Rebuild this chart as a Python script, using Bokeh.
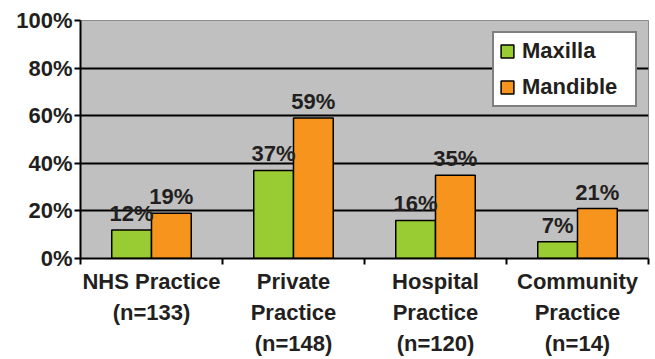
from bokeh.plotting import figure
from bokeh.models import (ColumnDataSource, Range1d, FixedTicker, PrintfTickFormatter,
                          LabelSet, Legend, LegendItem)
from bokeh.core.properties import value
from bokeh.embed import file_html
from bokeh.resources import INLINE

# Percentage of respondents by practice setting and jaw
categories = ["NHS Practice\n(n=133)", "Private\nPractice\n(n=148)",
              "Hospital\nPractice\n(n=120)", "Community\nPractice\n(n=14)"]
maxilla = [12, 37, 16, 7]
mandible = [19, 59, 35, 21]
y_ticks = [0, 20, 40, 60, 80, 100]

FONT = "Liberation Sans"
INK = "#231f20"
GREEN = "#99cc33"
ORANGE = "#f7941d"
BAR_W = 0.28
FS = "22px"

centers = [i + 0.5 for i in range(len(categories))]
src_max = ColumnDataSource(dict(x=[c - BAR_W / 2 for c in centers], top=maxilla,
                                label=[f"{v}%" for v in maxilla]))
src_man = ColumnDataSource(dict(x=[c + BAR_W / 2 for c in centers], top=mandible,
                                label=[f"{v}%" for v in mandible]))

p = figure(frame_width=568, frame_height=238, output_backend="svg", toolbar_location=None,
           x_range=Range1d(0, len(categories)), y_range=Range1d(0, 100),
           min_border_left=80, min_border_right=7, min_border_top=20, min_border_bottom=101)

p.border_fill_color = "white"
p.background_fill_color = "#c0c0c0"
p.outline_line_color = "#8c8c8c"
p.outline_line_width = 1

# grid: black horizontal lines only
p.xgrid.visible = False
p.ygrid.ticker = FixedTicker(ticks=[20, 40, 60, 80])
p.ygrid.grid_line_color = "black"
p.ygrid.grid_line_width = 2

r1 = p.vbar(x="x", top="top", width=BAR_W, source=src_max, fill_color=GREEN,
            line_color="black", line_width=1.5)
r2 = p.vbar(x="x", top="top", width=BAR_W, source=src_man, fill_color=ORANGE,
            line_color="black", line_width=1.5)

for src in (src_max, src_man):
    p.add_layout(LabelSet(x="x", y="top", text="label", source=src, y_offset=9,
                          text_align="center", text_baseline="alphabetic",
                          text_font=value(FONT), text_font_style="bold",
                          text_font_size=FS, text_color=INK))

# y axis
yax = p.yaxis[0]
yax.ticker = FixedTicker(ticks=y_ticks)
yax.formatter = PrintfTickFormatter(format="%d%%")
yax.axis_line_color = "black"
yax.axis_line_width = 2
yax.major_tick_line_color = "black"
yax.major_tick_line_width = 2
yax.major_tick_in = 0
yax.major_tick_out = 6
yax.minor_tick_line_color = None
yax.major_label_standoff = 2
yax.major_label_text_font = FONT
yax.major_label_text_font_style = "bold"
yax.major_label_text_font_size = FS
yax.major_label_text_color = INK

# x axis: labels at category centres, tick marks at category boundaries
xax = p.xaxis[0]
xax.ticker = FixedTicker(ticks=centers, minor_ticks=list(range(len(categories) + 1)))
xax.major_label_overrides = {c: lab for c, lab in zip(centers, categories)}
xax.axis_line_color = "black"
xax.axis_line_width = 2
xax.major_tick_line_color = None
xax.major_tick_in = 0
xax.major_tick_out = 0
xax.minor_tick_line_color = "black"
xax.minor_tick_line_width = 2
xax.minor_tick_in = 0
xax.minor_tick_out = 6
xax.major_label_standoff = 4
xax.major_label_text_font = FONT
xax.major_label_text_font_style = "bold"
xax.major_label_text_font_size = FS
xax.major_label_text_color = INK
xax.major_label_text_line_height = 1.25

legend = Legend(items=[LegendItem(label="Maxilla", renderers=[r1]),
                       LegendItem(label="Mandible", renderers=[r2])],
                location="top_right")
legend.label_text_font = FONT
legend.label_text_font_style = "bold"
legend.label_text_font_size = FS
legend.label_text_color = INK
legend.glyph_width = 16
legend.glyph_height = 16
legend.label_height = 22
legend.label_width = 108
legend.label_standoff = 7
legend.spacing = 10
legend.padding = 5
legend.margin = 11
legend.border_line_color = "black"
legend.border_line_width = 2
legend.background_fill_color = "white"
legend.background_fill_alpha = 1
p.add_layout(legend)

open("out.html", "w").write(file_html(p, INLINE))
